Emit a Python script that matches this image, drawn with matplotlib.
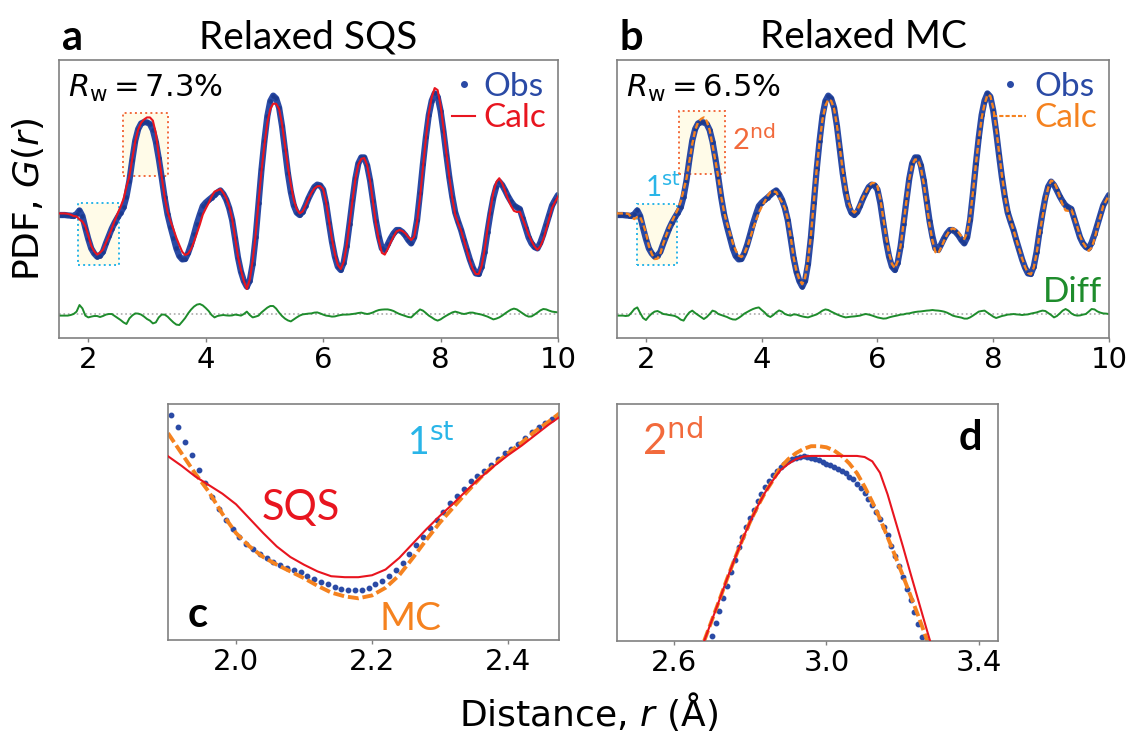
import numpy as np
import matplotlib
matplotlib.use("Agg")
import matplotlib.pyplot as plt
from matplotlib.lines import Line2D
from matplotlib.patches import Rectangle

# ---- full-range PDF, r = 1.5 ... 10 A, step 0.05 ----
r = np.round(np.arange(1.5, 10.0001, 0.05), 2)

obs = [
    -0.05, -0.05, -0.05, -0.07, -0.08, -0.10, 0.00, 0.18, -0.10, -0.70,
    -1.25, -1.72, -1.97, -2.13, -2.08, -1.88, -1.47, -1.10, -0.73, -0.43,
    -0.17, 0.07, 0.33, 0.87, 1.67, 2.72, 3.67, 4.25, 4.53, 4.60,
    4.58, 4.50, 4.20, 3.62, 2.78, 1.83, 0.83, -0.02, -0.63, -1.18,
    -1.72, -2.10, -2.27, -2.25, -1.95, -1.53, -1.02, -0.48, -0.02, 0.40,
    0.57, 0.70, 0.82, 0.95, 1.08, 1.18, 1.00, 0.72, 0.30, -0.30,
    -1.22, -2.18, -2.88, -3.35, -3.63, -3.33, -2.50, -1.17, 0.53, 2.23,
    3.67, 4.90, 5.65, 5.92, 5.78, 5.32, 4.40, 3.20, 2.03, 1.10,
    0.43, 0.07, -0.05, 0.10, 0.42, 0.78, 1.08, 1.35, 1.47, 1.43,
    1.22, 0.53, -0.45, -1.38, -2.13, -2.63, -2.80, -2.43, -1.62, -0.50,
    0.68, 1.78, 2.53, 2.83, 2.83, 2.43, 1.68, 0.65, -0.35, -1.13,
    -1.72, -1.80, -1.52, -1.22, -0.97, -0.80, -0.80, -0.90, -1.07, -1.30,
    -1.47, -1.17, -0.30, 1.03, 2.50, 3.83, 4.95, 5.67, 6.03, 5.87,
    5.17, 4.13, 2.95, 1.83, 0.87, 0.08, -0.38, -0.80, -1.32, -1.80,
    -2.28, -2.68, -2.97, -3.00, -2.63, -1.88, -0.88, 0.03, 0.82, 1.37,
    1.62, 1.45, 1.18, 0.88, 0.63, 0.43, 0.33, 0.25, -0.22, -0.70,
    -1.17, -1.47, -1.65, -1.72, -1.43, -1.02, -0.53, -0.05, 0.43, 0.70,
    0.95,
]

# difference curves (Obs - Calc)
diff_sqs = [
    -0.08, -0.08, -0.08, -0.08, -0.05, 0.00, 0.12, 0.45, 0.28, -0.08,
    -0.17, -0.13, -0.10, -0.10, -0.15, -0.10, -0.03, 0.00, 0.00, -0.10,
    -0.20, -0.30, -0.42, -0.50, -0.22, -0.07, 0.03, 0.02, -0.03, -0.13,
    -0.25, -0.33, -0.47, -0.42, -0.17, -0.03, -0.03, -0.13, -0.28, -0.42,
    -0.53, -0.55, -0.38, -0.20, 0.03, 0.22, 0.37, 0.47, 0.50, 0.43,
    0.30, 0.15, -0.05, -0.17, -0.10, -0.07, -0.05, -0.07, -0.08, -0.07,
    -0.03, -0.05, -0.08, 0.00, 0.12, -0.05, -0.17, -0.13, -0.08, 0.08,
    0.20, 0.32, 0.40, 0.40, 0.27, 0.07, -0.10, -0.23, -0.32, -0.37,
    -0.27, -0.17, -0.08, -0.02, 0.00, 0.02, 0.03, 0.07, 0.08, 0.03,
    -0.03, -0.08, -0.10, -0.13, -0.12, -0.08, -0.05, -0.03, -0.03, -0.02,
    0.00, 0.02, 0.05, 0.07, 0.03, 0.00, 0.03, 0.08, 0.15, 0.20,
    0.22, 0.23, 0.23, 0.20, 0.15, 0.07, 0.00, -0.05, -0.10, -0.15,
    -0.17, -0.03, 0.10, 0.23, 0.17, 0.05, -0.08, -0.17, -0.27, -0.33,
    -0.27, -0.17, -0.08, 0.00, 0.08, 0.12, 0.08, 0.03, 0.00, 0.03,
    0.07, 0.07, 0.03, 0.00, -0.03, -0.08, -0.13, -0.20, -0.27, -0.23,
    -0.17, -0.08, 0.03, 0.13, 0.22, 0.27, 0.23, 0.13, 0.03, -0.07,
    -0.13, -0.12, -0.03, 0.07, 0.18, 0.25, 0.23, 0.17, 0.12, 0.10,
    0.08,
]

diff_mc = [
    -0.08, -0.08, -0.08, -0.10, -0.08, 0.07, 0.25, 0.33, 0.05, -0.20,
    -0.30, -0.12, 0.02, 0.12, 0.15, 0.08, 0.00, -0.02, -0.05, -0.07,
    -0.10, -0.17, -0.28, -0.33, -0.10, 0.08, 0.17, 0.05, -0.05, -0.15,
    -0.25, -0.15, 0.00, 0.17, 0.12, 0.00, -0.05, -0.10, -0.15, -0.22,
    -0.27, -0.28, -0.20, -0.10, 0.02, 0.10, 0.18, 0.25, 0.30, 0.33,
    0.20, 0.08, -0.08, -0.15, -0.05, 0.08, 0.18, 0.12, 0.00, -0.05,
    -0.08, -0.02, -0.03, -0.08, -0.12, -0.15, -0.17, -0.12, -0.07, -0.02,
    0.07, 0.17, 0.23, 0.20, 0.12, 0.05, -0.02, -0.08, -0.13, -0.17,
    -0.15, -0.13, -0.12, -0.10, -0.08, -0.03, 0.00, -0.03, -0.07, -0.12,
    -0.17, -0.20, -0.23, -0.22, -0.17, -0.13, -0.10, -0.07, -0.03, -0.02,
    0.02, 0.03, 0.07, 0.10, 0.12, 0.13, 0.15, 0.17, 0.18, 0.20,
    0.18, 0.17, 0.15, 0.12, 0.07, 0.00, -0.08, -0.12, -0.15, -0.18,
    -0.23, -0.23, -0.17, -0.08, 0.02, 0.12, 0.15, 0.17, 0.07, -0.03,
    -0.13, -0.20, -0.15, -0.10, -0.07, -0.03, -0.02, 0.00, -0.02, -0.03,
    -0.05, -0.03, -0.02, 0.02, 0.05, 0.08, 0.13, 0.17, 0.15, 0.05,
    -0.05, -0.17, -0.10, 0.03, 0.17, 0.25, 0.17, 0.03, -0.05, -0.08,
    -0.07, -0.03, 0.00, 0.12, 0.25, 0.23, 0.13, 0.07, 0.03, 0.02,
    0.00,
]

obs = np.array(obs)
diff_sqs = np.array(diff_sqs)
diff_mc = np.array(diff_mc)
calc_sqs = obs - diff_sqs
calc_mc = obs - diff_mc
diff_offset = -5.0

# ---- zoom c: first peak region ----
r_c_obs = np.round(np.arange(1.905, 2.4651, 0.01), 3)
obs_c = [
    -0.31, -0.44, -0.59, -0.73, -0.88, -1.02, -1.16, -1.29, -1.40, -1.50,
    -1.58, -1.65, -1.71, -1.76, -1.80, -1.84, -1.87, -1.90, -1.93, -1.95,
    -1.99, -2.02, -2.05, -2.07, -2.10, -2.12, -2.13, -2.13, -2.13, -2.11,
    -2.07, -2.04, -1.99, -1.93, -1.85, -1.76, -1.66, -1.58, -1.49, -1.40,
    -1.32, -1.23, -1.15, -1.08, -1.00, -0.95, -0.89, -0.83, -0.77, -0.71,
    -0.66, -0.61, -0.55, -0.49, -0.44, -0.39, -0.35,
]
r_c_fit = np.round(np.arange(1.90, 2.4801, 0.02), 2)
sqs_c = [
    -0.74, -0.84, -0.95, -1.04, -1.13, -1.24, -1.39, -1.54, -1.68, -1.79,
    -1.87, -1.94, -1.99, -2.00, -2.00, -1.98, -1.92, -1.80, -1.65, -1.50,
    -1.36, -1.23, -1.09, -0.96, -0.84, -0.73, -0.63, -0.52, -0.41, -0.31,
]
mc_c = [
    -0.50, -0.71, -0.92, -1.11, -1.34, -1.54, -1.68, -1.79, -1.87, -1.94,
    -2.01, -2.09, -2.16, -2.20, -2.22, -2.19, -2.11, -1.98, -1.80, -1.61,
    -1.43, -1.27, -1.11, -0.96, -0.83, -0.71, -0.60, -0.48, -0.38, -0.27,
]

# ---- zoom d: second peak region ----
r_d_obs = np.round(np.arange(2.70, 3.2601, 0.01), 2)
obs_d = [
    1.29, 1.52, 1.74, 1.98, 2.20, 2.47, 2.69, 2.93, 3.11, 3.29,
    3.47, 3.62, 3.77, 3.90, 4.03, 4.14, 4.26, 4.33, 4.40, 4.47,
    4.52, 4.55, 4.57, 4.59, 4.60, 4.59, 4.57, 4.55, 4.53, 4.50,
    4.47, 4.45, 4.41, 4.37, 4.33, 4.29, 4.23, 4.18, 4.10, 4.02,
    3.92, 3.82, 3.71, 3.58, 3.45, 3.30, 3.14, 2.95, 2.77, 2.57,
    2.37, 2.15, 1.94, 1.73, 1.50, 1.27, 1.04,
]
r_d_fit = np.round(np.arange(2.64, 3.2801, 0.02), 2)
sqs_d = [
    0.43, 0.83, 1.19, 1.57, 1.95, 2.34, 2.71, 3.06, 3.39, 3.68,
    3.94, 4.16, 4.35, 4.46, 4.55, 4.60, 4.61, 4.61, 4.61, 4.61,
    4.61, 4.61, 4.61, 4.59, 4.51, 4.30, 3.90, 3.42, 2.94, 2.44,
    1.95, 1.46, 0.98,
]
mc_d = [
    0.43, 0.83, 1.19, 1.57, 1.95, 2.34, 2.71, 3.06, 3.39, 3.68,
    3.94, 4.16, 4.40, 4.55, 4.66, 4.74, 4.79, 4.79, 4.77, 4.71,
    4.61, 4.47, 4.29, 4.04, 3.76, 3.45, 3.11, 2.76, 2.40, 2.03,
    1.66, 1.27, 0.89,
]

BLUE = "#2a4aa5"
RED = "#e8151f"
ORANGE = "#f5821f"
GREEN = "#1e8c2c"
CYAN = "#29b5e8"
BOXRED = "#f26a3c"
SPINE = "#808080"
LAB = "Lato"

fig = plt.figure(figsize=(11.38, 7.34), dpi=100)
ax_a = fig.add_axes([0.0518, 0.5395, 0.4385, 0.3787])
ax_b = fig.add_axes([0.5422, 0.5395, 0.4323, 0.3787])
ax_c = fig.add_axes([0.1476, 0.1281, 0.3436, 0.3215])
ax_d = fig.add_axes([0.5422, 0.1267, 0.3348, 0.3229])

for ax in (ax_a, ax_b, ax_c, ax_d):
    for s in ax.spines.values():
        s.set_color(SPINE)
        s.set_linewidth(1.2)
    ax.set_yticks([])
    ax.tick_params(axis="x", labelsize=21, length=3, width=1, color=SPINE, pad=3)


def top_panel(ax, calc, diff, ccolor, dashed, rw, title, letter, boxes):
    for (x0, y0, w, h, ec) in boxes:
        ax.add_patch(Rectangle((x0, y0), w, h, facecolor="#fffbe8", edgecolor=ec,
                               ls=":", lw=1.4, zorder=1))
    ax.plot(r, obs, color=BLUE, lw=4.5, solid_capstyle="round", zorder=2)
    ax.plot(r, obs, "o", ms=2.2, color="#1c3a8f", zorder=2.1)
    if dashed:
        ax.plot(r, calc, color=ccolor, lw=1.7, dashes=(2.5, 1.2), zorder=3)
        h_calc = Line2D([], [], color=ccolor, lw=1.5, dashes=(2, 1), label="Calc")
        hl = 1.0
    else:
        ax.plot(r, calc, color=ccolor, lw=1.5, zorder=3)
        h_calc = Line2D([], [], color=ccolor, lw=1.5, label="Calc")
        hl = 0.7
    ax.axhline(diff_offset, color="#aaaaaa", ls=":", lw=1.2, zorder=1)
    ax.plot(r, diff_offset + diff, color=GREEN, lw=1.4, zorder=2)
    ax.set_xlim(1.5, 10)
    ax.set_ylim(-6.2, 7.7)
    ax.set_xticks([2, 4, 6, 8, 10])
    ax.text(0.018, 0.955, rw, transform=ax.transAxes, fontsize=22, va="top", ha="left")
    ax.text(0.5, 1.043, title, transform=ax.transAxes, fontsize=28, family=LAB,
            ha="center", va="baseline")
    ax.text(0.006, 1.036, letter, transform=ax.transAxes, fontsize=30, family=LAB,
            weight="bold", ha="left", va="baseline")
    h_obs = Line2D([], [], marker="o", ms=4, ls="none", color=BLUE, label="Obs")
    ax.legend(handles=[h_obs, h_calc], loc="upper right", frameon=False,
              prop={"family": LAB, "size": 24}, handlelength=hl, handletextpad=0.25,
              labelspacing=0.05, borderaxespad=0.15, borderpad=0.2,
              labelcolor="linecolor")


top_panel(ax_a, calc_sqs, diff_sqs, RED, False, r"$R_\mathrm{w}=7.3\%$",
          "Relaxed SQS", "a",
          [(1.83, -2.55, 0.70, 3.08, CYAN), (2.585, 1.90, 0.775, 3.17, BOXRED)])
top_panel(ax_b, calc_mc, diff_mc, ORANGE, True, r"$R_\mathrm{w}=6.5\%$",
          "Relaxed MC", "b",
          [(1.84, -2.55, 0.70, 3.05, CYAN), (2.576, 1.98, 0.79, 3.17, BOXRED)])

ax_b.text(1.98, 0.85, r"1$^{\mathrm{st}}$", color=CYAN, fontsize=20, family=LAB,
          ha="left", va="baseline")
ax_b.text(3.48, 3.2, r"2$^{\mathrm{nd}}$", color=BOXRED, fontsize=21, family=LAB,
          ha="left", va="baseline")
ax_b.text(0.986, 0.13, "Diff", transform=ax_b.transAxes, color=GREEN, fontsize=25,
          family=LAB, ha="right", va="baseline")

# panel c
ax_c.plot(r_c_obs, obs_c, "o", ms=3.2, color=BLUE, zorder=2)
ax_c.plot(r_c_fit, sqs_c, color=RED, lw=1.5, zorder=3)
ax_c.plot(r_c_fit, mc_c, color=ORANGE, lw=2.8, dashes=(2.8, 1.0), zorder=2.5)
ax_c.set_xlim(1.90, 2.475)
ax_c.set_ylim(-2.654, -0.196)
ax_c.set_xticks([2.0, 2.2, 2.4])
ax_c.text(0.24, 0.508, "SQS", transform=ax_c.transAxes, color=RED, fontsize=30,
          family=LAB, va="baseline")
ax_c.text(0.542, 0.042, "MC", transform=ax_c.transAxes, color=ORANGE, fontsize=28,
          family=LAB, va="baseline")
ax_c.text(0.611, 0.784, r"1$^{\mathrm{st}}$", transform=ax_c.transAxes, color=CYAN,
          fontsize=27, family=LAB, va="baseline")
ax_c.text(0.049, 0.055, "c", transform=ax_c.transAxes, fontsize=30, family=LAB,
          weight="bold", va="baseline")

# panel d
ax_d.plot(r_d_obs, obs_d, "o", ms=3.2, color=BLUE, zorder=2)
ax_d.plot(r_d_fit, sqs_d, color=RED, lw=1.5, zorder=3)
ax_d.plot(r_d_fit, mc_d, color=ORANGE, lw=2.8, dashes=(2.8, 1.0), zorder=2.5)
ax_d.set_xlim(2.452, 3.449)
ax_d.set_ylim(1.19, 5.57)
ax_d.set_xticks([2.6, 3.0, 3.4])
ax_d.text(0.066, 0.785, r"2$^{\mathrm{nd}}$", transform=ax_d.transAxes, color=BOXRED,
          fontsize=30, family=LAB, va="baseline")
ax_d.text(0.958, 0.806, "d", transform=ax_d.transAxes, fontsize=30, family=LAB,
          weight="bold", ha="right", va="baseline")

fig.text(0.025, 0.728, r"PDF, $G(r)$", rotation=90, fontsize=26, ha="center", va="center")
fig.text(0.517, 0.03, r"Distance, $r$ (Å)", fontsize=26, ha="center", va="center")

fig.savefig("out.png", dpi=100)
